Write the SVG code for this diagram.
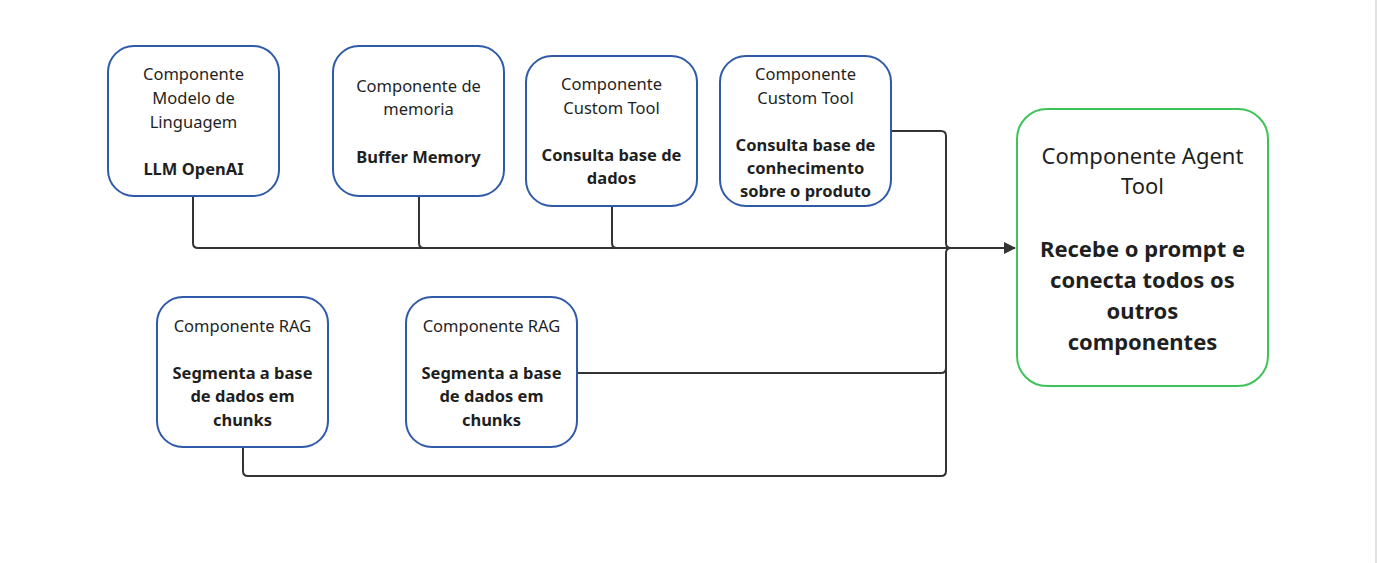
<svg xmlns="http://www.w3.org/2000/svg" width="1377" height="563" viewBox="0 0 1377 563">
<defs>
<style>
.box{fill:#ffffff;stroke:#2f5aa8;stroke-width:2}
.agent{fill:#ffffff;stroke:#3cc45a;stroke-width:2}
.t{font-family:"Noto Sans","Open Sans",sans-serif;font-size:16.5px;fill:#1f1f1f;text-anchor:middle}
.b{font-weight:bold}
.tl{font-family:"Noto Sans","Open Sans",sans-serif;font-size:22px;fill:#1f1f1f;text-anchor:middle}
.c{fill:none;stroke:#333333;stroke-width:2}
</style>
<marker id="arr" markerWidth="12" markerHeight="12" refX="11" refY="6" orient="auto" markerUnits="userSpaceOnUse">
<path d="M0,0 L12,6 L0,12 Z" fill="#333333"/>
</marker>
<clipPath id="clip4"><rect x="720" y="56" width="171" height="149" rx="25"/></clipPath>
</defs>
<rect x="0" y="0" width="1377" height="563" fill="#ffffff"/>
<rect x="1375" y="0" width="2" height="563" fill="#e2e2e2"/>

<g id="connectors">
<path class="c" d="M193,196 V243 Q193,248 198,248 H1015" marker-end="url(#arr)"/>
<path class="c" d="M419,196 V243 Q419,248 424,248"/>
<path class="c" d="M612,206 V243 Q612,248 617,248"/>
<path class="c" d="M891,131 H941 Q946,131 946,136 V243 Q946,248 951,248"/>
<path class="c" d="M577,373 H941 Q946,373 946,368 V253 Q946,248 951,248"/>
<path class="c" d="M243,447 V471 Q243,476 248,476 H941 Q946,476 946,471 V368"/>
</g>

<g id="node-llm">
<rect class="box" x="108" y="46" width="171" height="150" rx="26"/>
<text class="t" x="193.5" y="80">Componente</text>
<text class="t" x="193.5" y="104">Modelo de</text>
<text class="t" x="193.5" y="128">Linguagem</text>
<text class="t b" x="193.5" y="175">LLM OpenAI</text>
</g>

<g id="node-memory">
<rect class="box" x="333" y="46" width="171" height="150" rx="26"/>
<text class="t" x="418.5" y="92">Componente de</text>
<text class="t" x="418.5" y="115">memoria</text>
<text class="t b" x="418.5" y="163">Buffer Memory</text>
</g>

<g id="node-tool-db">
<rect class="box" x="526" y="56" width="171" height="150" rx="26"/>
<text class="t" x="611.5" y="90">Componente</text>
<text class="t" x="611.5" y="114">Custom Tool</text>
<text class="t b" x="611.5" y="161">Consulta base de</text>
<text class="t b" x="611.5" y="184">dados</text>
</g>

<g id="node-tool-kb">
<rect class="box" x="720" y="56" width="171" height="150" rx="26"/>
<g clip-path="url(#clip4)">
<text class="t" x="805.5" y="80">Componente</text>
<text class="t" x="805.5" y="104">Custom Tool</text>
<text class="t b" x="805.5" y="151">Consulta base de</text>
<text class="t b" x="805.5" y="174">conhecimento</text>
<text class="t b" x="805.5" y="197">sobre o produto</text>
</g>
</g>

<g id="node-rag1">
<rect class="box" x="157" y="297" width="171" height="150" rx="26"/>
<text class="t" x="242.5" y="332">Componente RAG</text>
<text class="t b" x="242.5" y="379">Segmenta a base</text>
<text class="t b" x="242.5" y="402">de dados em</text>
<text class="t b" x="242.5" y="426">chunks</text>
</g>

<g id="node-rag2">
<rect class="box" x="406" y="297" width="171" height="150" rx="26"/>
<text class="t" x="491.5" y="332">Componente RAG</text>
<text class="t b" x="491.5" y="379">Segmenta a base</text>
<text class="t b" x="491.5" y="402">de dados em</text>
<text class="t b" x="491.5" y="426">chunks</text>
</g>

<g id="node-agent">
<rect class="agent" x="1017" y="109" width="251" height="277" rx="30"/>
<text class="tl" x="1142.5" y="164">Componente Agent</text>
<text class="tl" x="1142.5" y="194">Tool</text>
<text class="tl b" x="1142.5" y="257">Recebe o prompt e</text>
<text class="tl b" x="1142.5" y="288">conecta todos os</text>
<text class="tl b" x="1142.5" y="319">outros</text>
<text class="tl b" x="1142.5" y="350">componentes</text>
</g>
</svg>
